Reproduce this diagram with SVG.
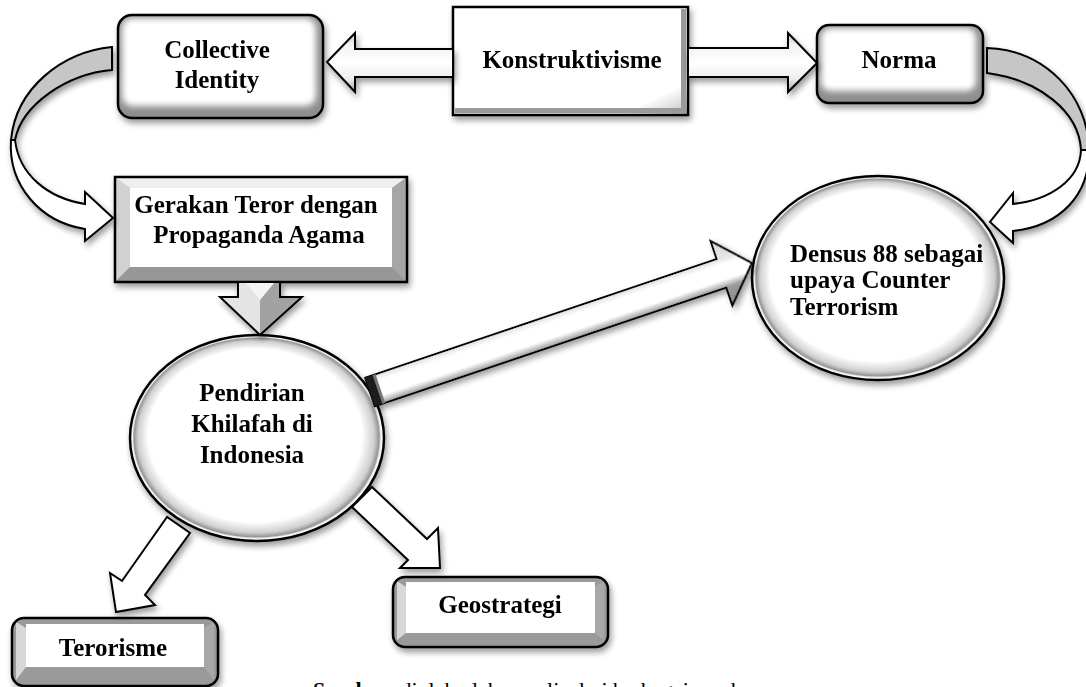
<svg xmlns="http://www.w3.org/2000/svg" width="1086" height="687" viewBox="0 0 1086 687">
<defs>
<style>
.t{font-family:"Liberation Serif","Times New Roman",serif;font-weight:bold;font-size:25px;fill:#000}
.c{text-anchor:middle}
.ol{fill:none;stroke:#000;stroke-width:2.5}
.arw{stroke:#000;stroke-width:2;stroke-linejoin:miter}
.cap{font-family:"Liberation Serif","Times New Roman",serif;font-size:22px;fill:#000}
</style>
<filter id="sh" x="-15%" y="-15%" width="135%" height="145%">
<feGaussianBlur in="SourceAlpha" stdDeviation="3"/>
<feOffset dx="2" dy="4"/>
<feComponentTransfer><feFuncA type="linear" slope="0.4"/></feComponentTransfer>
<feMerge><feMergeNode/><feMergeNode in="SourceGraphic"/></feMerge>
</filter>
<filter id="soft" x="-10%" y="-10%" width="120%" height="120%"><feGaussianBlur stdDeviation="3"/></filter>
<radialGradient id="ring" cx="0.5" cy="0.5" r="0.5" fx="0.45" fy="0.42">
<stop offset="0" stop-color="#fff"/>
<stop offset="0.84" stop-color="#fff"/>
<stop offset="0.93" stop-color="#d0d0d0"/>
<stop offset="0.965" stop-color="#959595"/>
<stop offset="0.978" stop-color="#f2f2f2"/>
<stop offset="1" stop-color="#fff"/>
</radialGradient>
<linearGradient id="dbl" x1="0" y1="33" x2="0" y2="92" gradientUnits="userSpaceOnUse">
<stop offset="0" stop-color="#c4c4c4"/>
<stop offset="0.2" stop-color="#f2f2f2"/>
<stop offset="0.5" stop-color="#fff"/>
<stop offset="0.78" stop-color="#eee"/>
<stop offset="1" stop-color="#a0a0a0"/>
</linearGradient>
<linearGradient id="diag" x1="0" y1="-34" x2="0" y2="34" gradientUnits="userSpaceOnUse">
<stop offset="0" stop-color="#d8d8d8"/>
<stop offset="0.3" stop-color="#e6e6e6"/>
<stop offset="0.38" stop-color="#fff"/>
<stop offset="0.6" stop-color="#fff"/>
<stop offset="0.72" stop-color="#9a9a9a"/>
<stop offset="1" stop-color="#8a8a8a"/>
</linearGradient>
<linearGradient id="kedge" x1="0" y1="0" x2="1" y2="1">
<stop offset="0" stop-color="#fff"/>
<stop offset="0.85" stop-color="#fff"/>
<stop offset="1" stop-color="#bdbdbd"/>
</linearGradient>
</defs>

<rect width="1086" height="687" fill="#fff"/>

<g id="node-collective" filter="url(#sh)">
<rect x="118" y="15" width="205" height="103" rx="14" fill="#8e8e8e"/>
<rect x="122" y="18" width="194" height="88" rx="10" fill="#fff" filter="url(#soft)"/>
<rect x="118" y="15" width="205" height="103" rx="14" class="ol"/>
<text class="t c" x="217" y="58" font-size="24">Collective</text>
<text class="t c" x="217" y="88" font-size="24">Identity</text>
</g>

<g id="node-konstruktivisme" filter="url(#sh)">
<rect x="453" y="7" width="235" height="108" fill="url(#kedge)"/>
<rect x="681" y="9" width="5" height="104" fill="#9a9a9a"/>
<rect x="455" y="108" width="231" height="5" fill="#9a9a9a"/>
<rect x="453" y="7" width="235" height="108" class="ol"/>
<text class="t c" x="572" y="68">Konstruktivisme</text>
</g>

<g id="node-norma" filter="url(#sh)">
<rect x="817" y="25" width="166" height="78" rx="12" fill="#8e8e8e"/>
<rect x="821" y="28" width="155" height="63" rx="9" fill="#fff" filter="url(#soft)"/>
<rect x="817" y="25" width="166" height="78" rx="12" class="ol"/>
<text class="t c" x="899" y="68">Norma</text>
</g>

<g id="node-gerakan" filter="url(#sh)">
<polygon points="115,177 407,177 392,188 130,188" fill="#efefef"/>
<polygon points="115,177 130,188 130,267 115,282" fill="#d2d2d2"/>
<polygon points="407,177 407,282 392,267 392,188" fill="#a6a6a6"/>
<polygon points="115,282 130,267 392,267 407,282" fill="#979797"/>
<rect x="130" y="188" width="262" height="79" fill="#fff"/>
<rect x="115" y="177" width="292" height="105" class="ol"/>
<text class="t c" x="256" y="213" font-size="24">Gerakan Teror dengan</text>
<text class="t c" x="259" y="243" font-size="24">Propaganda Agama</text>
</g>

<g id="node-pendirian" filter="url(#sh)">
<ellipse cx="257" cy="438" rx="127" ry="103" fill="url(#ring)" stroke="#000" stroke-width="2.5"/>
<text class="t c" x="252" y="401">Pendirian</text>
<text class="t c" x="252" y="432">Khilafah di</text>
<text class="t c" x="252" y="463">Indonesia</text>
</g>

<g id="node-densus" filter="url(#sh)">
<ellipse cx="878" cy="278" rx="126" ry="102" fill="url(#ring)" stroke="#000" stroke-width="2.5"/>
<text class="t" x="790" y="262" font-size="24">Densus 88 sebagai</text>
<text class="t" x="790" y="288" font-size="24">upaya Counter</text>
<text class="t" x="790" y="315" font-size="24">Terrorism</text>
</g>

<g id="node-terorisme" filter="url(#sh)">
<rect x="12" y="618" width="206" height="68" rx="12" fill="#9a9a9a"/>
<polygon points="16,622 26,628 26,667 16,680" fill="#d8d8d8"/>
<polygon points="214,622 204,628 204,667 214,680" fill="#a8a8a8"/>
<rect x="26" y="624" width="178" height="43" fill="#fff"/>
<rect x="12" y="618" width="206" height="68" rx="12" class="ol"/>
<text class="t c" x="113" y="656">Terorisme</text>
</g>

<g id="node-geostrategi" filter="url(#sh)">
<rect x="393" y="577" width="215" height="70" rx="12" fill="#9a9a9a"/>
<polygon points="397,581 406,587 406,633 397,640" fill="#d8d8d8"/>
<polygon points="604,581 595,587 595,633 604,640" fill="#a8a8a8"/>
<rect x="406" y="582" width="189" height="51" fill="#fff"/>
<rect x="393" y="577" width="215" height="70" rx="12" class="ol"/>
<text class="t c" x="500" y="613">Geostrategi</text>
</g>

<g id="connectors">
<g filter="url(#sh)">
<path class="arw" d="M327,62 L355,33 L355,49 L453,49 L453,77 L355,77 L355,92 Z" fill="url(#dbl)"/>
<path class="arw" d="M817,63 L788,33 L788,48 L688,48 L688,77 L788,77 L788,92 Z" fill="url(#dbl)"/>
</g>
<g filter="url(#sh)">
<path class="arw" d="M112,47 C62,52 16,88 11,140 L15,140 C22,105 66,74 112,70 Z" fill="#c6c6c6"/>
<path class="arw" d="M11,140 C8,185 40,222 85,229 L85,241 L113,218 L85,192 L85,204 C48,198 19,175 15,140 Z" fill="#fff"/>
</g>
<g filter="url(#sh)">
<path class="arw" d="M987,48 C1045,50 1088,95 1089,150 L1081,150 C1079,112 1040,80 987,73 Z" fill="#c6c6c6"/>
<path class="arw" d="M1089,150 C1090,195 1060,226 1013,231 L1013,243 L990,222 L1013,193 L1013,204 C1050,200 1080,180 1081,150 Z" fill="#fff"/>
</g>
<g filter="url(#sh)">
<polygon points="238,282 260,282 260,335 220,297 238,297" fill="#e4e4e4"/>
<polygon points="260,282 280,282 280,297 302,297 260,335" fill="#a2a2a2"/>
<polygon points="245,282 260,300 275,282" fill="#f4f4f4"/>
<polygon class="arw" points="238,282 280,282 280,297 302,297 260,335 220,297 238,297" fill="none"/>
</g>
<g transform="translate(370,392) rotate(-18.66)" filter="url(#sh)">
<path class="arw" d="M0,-15 L371,-15 L371,-34 L403,0 L371,34 L371,15 L0,15 Z" fill="url(#diag)"/>
<rect x="0" y="-15" width="8" height="30" fill="#1a1a1a"/>
<rect x="8" y="-15" width="3" height="30" fill="#777"/>
</g>
<g filter="url(#sh)">
<polygon class="arw" points="167,517 122,581 110,573 116,612 155,605 145,595 190,533" fill="#fff"/>
<polygon class="arw" points="372,487 427,539 438,528 440,568 400,568 408,560 352,507" fill="#fff"/>
</g>
</g>

<text class="cap" x="313" y="697"><tspan font-weight="bold">Sumber:</tspan> diolah oleh penulis dari berbagai sumber</text>
</svg>
